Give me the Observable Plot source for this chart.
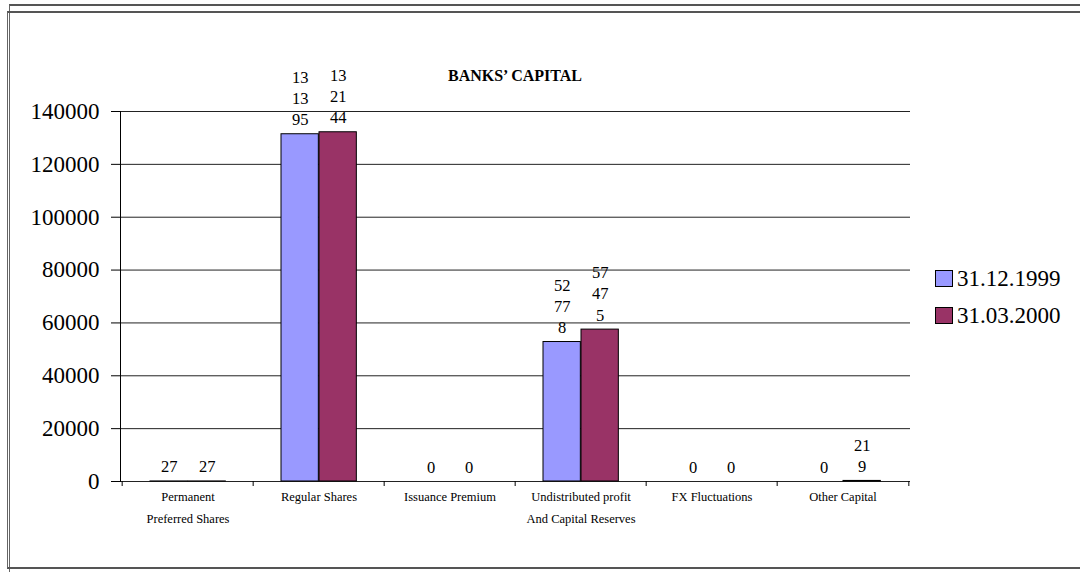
<!DOCTYPE html>
<html>
<head>
<meta charset="utf-8">
<script src="https://cdn.jsdelivr.net/npm/d3@7"></script>
<script src="https://cdn.jsdelivr.net/npm/@observablehq/plot@0.6"></script>
<style>
  html, body { margin: 0; padding: 0; background: #fff; }
  #wrap { position: relative; width: 1080px; height: 572px; overflow: hidden; }
  .frameA { position: absolute; left: 9px; top: 4px; width: 1100px; height: 600px; border-left: 1px solid #666; border-top: 2px solid #555; }
  .frameB { position: absolute; left: 7px; top: 11px; width: 1100px; height: 554px; border-left: 1px solid #666; border-top: 2px solid #555; border-bottom: 2px solid #555; }
  #title { position: absolute; left: 0; width: 1030px; top: 67px; text-align: center; font-family: 'Liberation Serif', 'Times New Roman', serif; font-weight: bold; font-size: 16px; color: #000; }
  #legend { position: absolute; left: 935px; top: 260px; font-family: 'Liberation Serif', 'Times New Roman', serif; font-size: 23px; color: #000; }
  .item { display: flex; align-items: center; height: 37px; font-family: 'Liberation Serif', 'Times New Roman', serif; }
  .sw { width: 18px; height: 17px; border: 1px solid #000; box-sizing: border-box; margin-right: 4px; }
  #chart { position: absolute; left: 0; top: 0; }
</style>
</head>
<body>
<div id="wrap">
  <div class="frameA"></div>
  <div class="frameB"></div>
  <div id="chart"></div>
  <div id="title">BANKS’ CAPITAL</div>
  <div id="legend"></div>
</div>
<script>
const categories = ["Permanent Preferred Shares", "Regular Shares", "Issuance Premium", "Undistributed profit And Capital Reserves", "FX Fluctuations", "Other Capital"];
const labelLine1 = ["Permanent", "Regular Shares", "Issuance Premium", "Undistributed profit", "FX Fluctuations", "Other Capital"];
const labelLine2 = ["Preferred Shares", "", "", "And Capital Reserves", "", ""];
const seriesNames = ["31.12.1999", "31.03.2000"];
const seriesColors = ["#9999FF", "#993366"];
const values1999 = [27, 131395, 0, 52778, 0, 0];
const values2000 = [27, 132144, 0, 57475, 0, 219];
const yTicks = [0, 20000, 40000, 60000, 80000, 100000, 120000, 140000];

// Excel-style narrow label wrapping (two characters per line)
function wrapLabel(v) {
  const s = String(v);
  const parts = [];
  for (let i = 0; i < s.length; i += 2) parts.push(s.slice(i, i + 2));
  return parts.join("\n");
}

const rows1999 = categories.map((c, i) => ({category: c, value: values1999[i], label: wrapLabel(values1999[i])}));
const rows2000 = categories.map((c, i) => ({category: c, value: values2000[i], label: wrapLabel(values2000[i])}));
const labelRows = categories.map((c, i) => ({category: c, l1: labelLine1[i], l2: labelLine2[i]}));

const W = 1080, H = 572, mL = 120, mR = 170, mT = 111, mB = 91;
const band = (W - mL - mR) / categories.length;
const barW = 38, gap = 28;

const serif = "'Liberation Serif', 'Times New Roman', serif";
const textStyle = {fontFamily: serif, fill: "#000"};

const chart = Plot.plot({
  width: W,
  height: H,
  marginLeft: mL,
  marginRight: mR,
  marginTop: mT,
  marginBottom: mB,
  style: {fontFamily: serif, background: "transparent", color: "#000"},
  x: {type: "band", domain: categories, padding: 0, axis: null},
  y: {domain: [0, 140000], axis: null},
  marks: [
    Plot.ruleY(yTicks, {y: d => d, stroke: "#222", strokeWidth: 1}),
    Plot.axisY({ticks: yTicks, tickSize: 9, tickPadding: 12, fontSize: 23, tickFormat: d3.format("d"), stroke: "#000", label: null}),
    Plot.frame({anchor: "left", stroke: "#000"}),
    // boundary ticks under the x axis
    Plot.ruleX(categories, {x: d => d, y1: 0, y2: 0, insetBottom: -5, dx: -band / 2, stroke: "#000"}),
    Plot.ruleX(categories.slice(-1), {x: d => d, y1: 0, y2: 0, insetBottom: -5, dx: band / 2, stroke: "#000"}),
    // value labels
    Plot.text(rows1999, {x: "category", y: "value", text: "label", dx: -band / 2 + gap + barW / 2, dy: -9, lineAnchor: "bottom", lineHeight: 1.28, fontSize: 16.5, ...textStyle}),
    Plot.text(rows2000, {x: "category", y: "value", text: "label", dx: -band / 2 + gap + barW * 1.5, dy: -9, lineAnchor: "bottom", lineHeight: 1.28, fontSize: 16.5, ...textStyle}),
    // bars
    Plot.barY(rows1999, {x: "category", y: "value", fill: seriesColors[0], stroke: "#000", strokeWidth: 1, insetLeft: gap, insetRight: band - gap - barW}),
    Plot.barY(rows2000, {x: "category", y: "value", fill: seriesColors[1], stroke: "#000", strokeWidth: 1, insetLeft: gap + barW, insetRight: band - gap - 2 * barW}),
    // category labels
    Plot.text(labelRows, {x: "category", text: "l1", frameAnchor: "bottom", dy: 19, fontSize: 12.5, ...textStyle}),
    Plot.text(labelRows, {x: "category", text: "l2", frameAnchor: "bottom", dy: 41, fontSize: 12.5, ...textStyle})
  ]
});
document.getElementById("chart").appendChild(chart);

const legend = document.getElementById("legend");
seriesNames.forEach((name, i) => {
  const item = document.createElement("div");
  item.className = "item";
  const sw = document.createElement("div");
  sw.className = "sw";
  sw.style.background = seriesColors[i];
  const t = document.createElement("span");
  t.textContent = name;
  t.style.fontFamily = serif;
  item.appendChild(sw);
  item.appendChild(t);
  legend.appendChild(item);
});
</script>
</body>
</html>
